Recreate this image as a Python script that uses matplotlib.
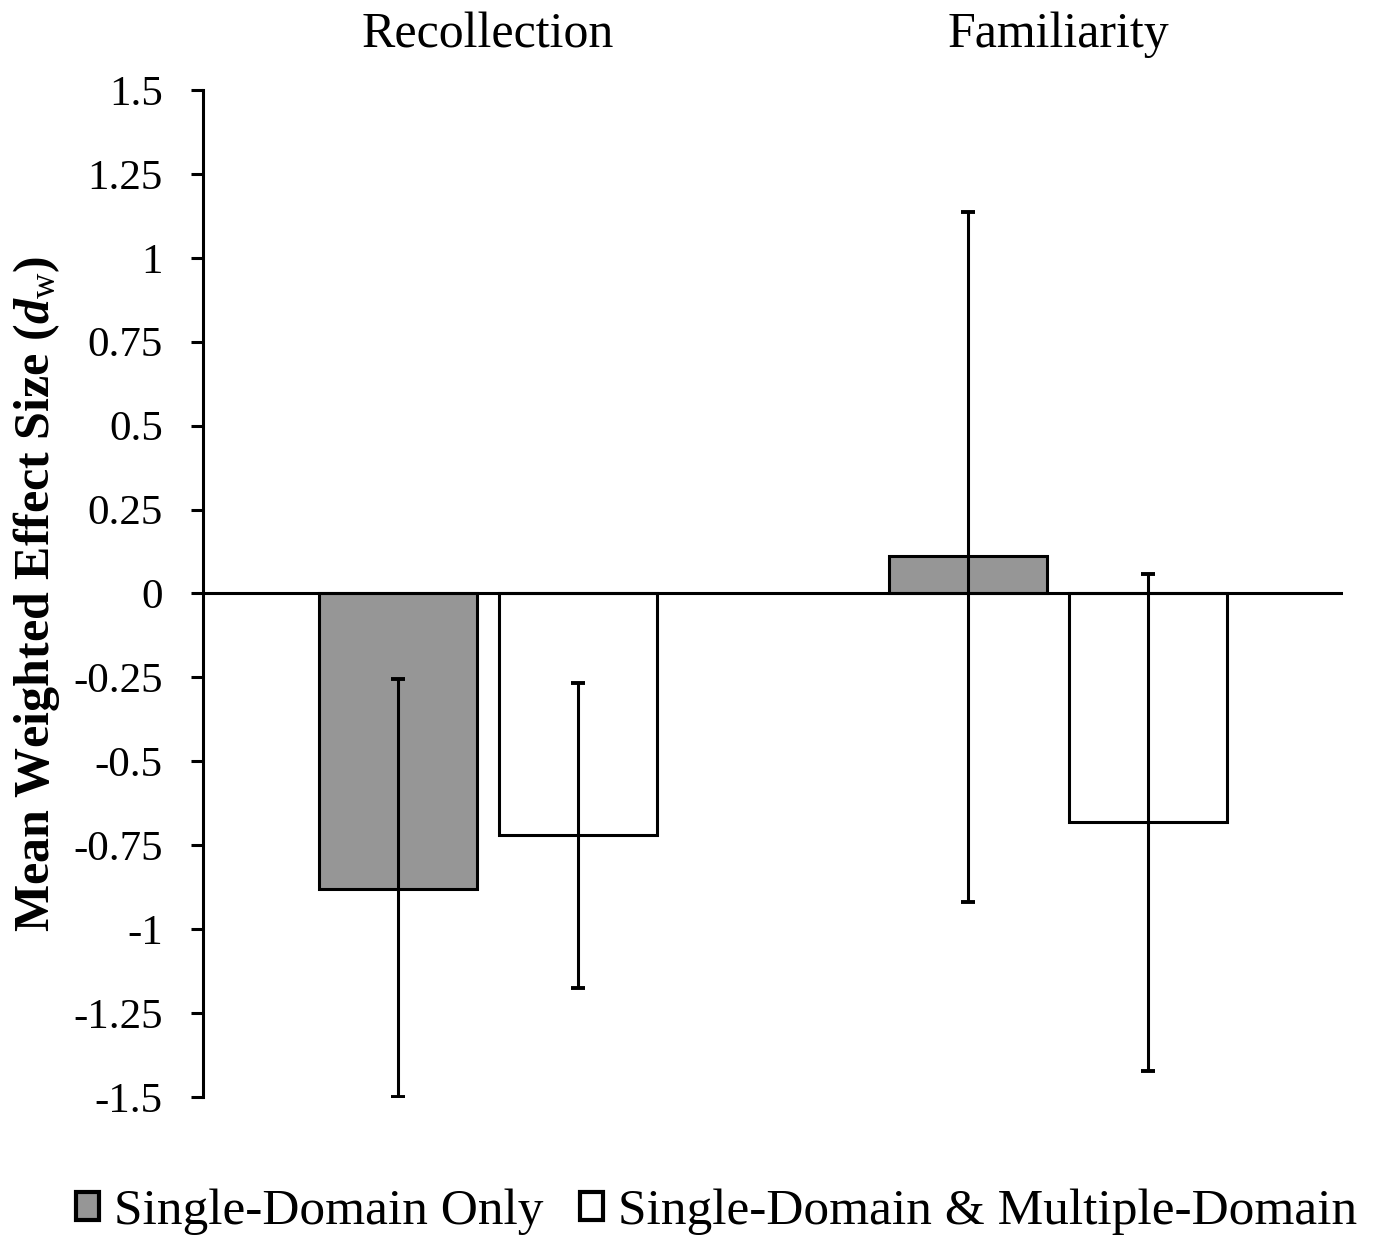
import numpy as np
import matplotlib
matplotlib.use("Agg")
import matplotlib.pyplot as plt

# data
categories = ['Recollection', 'Familiarity']
series_names = ['Single-Domain Only', 'Single-Domain & Multiple-Domain']
single_only = [-0.88, 0.113]
single_multi = [-0.718, -0.682]
single_only_lo = [-1.50, -0.92]
single_only_hi = [-0.256, 1.135]
single_multi_lo = [-1.174, -1.424]
single_multi_hi = [-0.268, 0.057]
y_ticks = [1.5, 1.25, 1, 0.75, 0.5, 0.25, 0, -0.25, -0.5, -0.75, -1, -1.25, -1.5]
y_tick_labels = ['1.5', '1.25', '1', '0.75', '0.5', '0.25', '0', '-0.25', '-0.5',
                 '-0.75', '-1', '-1.25', '-1.5']

plt.rcParams['font.family'] = ['Liberation Serif', 'DejaVu Serif']
plt.rcParams['mathtext.fontset'] = 'custom'
plt.rcParams['mathtext.rm'] = 'Liberation Serif'
plt.rcParams['mathtext.it'] = 'Liberation Serif:italic'
plt.rcParams['mathtext.bf'] = 'Liberation Serif:bold'
plt.rcParams['mathtext.bfit'] = 'Liberation Serif:bold:italic'

fig = plt.figure(figsize=(13.76, 12.39), dpi=100)
ax = fig.add_axes([0.1475, 0.1146, 0.8285, 0.8128])

x = np.arange(len(categories))
width = 0.277
offset = 0.158

def err(vals, lo, hi):
    vals = np.array(vals)
    return [vals - np.array(lo), np.array(hi) - vals]

ax.bar(x - offset, single_only, width, color='#969696', edgecolor='black',
       linewidth=2.2, label=series_names[0], zorder=2)
ax.bar(x + offset, single_multi, width, color='white', edgecolor='black',
       linewidth=2.2, label=series_names[1], zorder=2)
ax.errorbar(x - offset, single_only, yerr=err(single_only, single_only_lo, single_only_hi),
            fmt='none', ecolor='black', elinewidth=2.2, capsize=5, capthick=2.8, zorder=3)
ax.errorbar(x + offset, single_multi, yerr=err(single_multi, single_multi_lo, single_multi_hi),
            fmt='none', ecolor='black', elinewidth=2.2, capsize=5, capthick=2.8, zorder=3)

# zero line across the plot
ax.axhline(0, color='black', linewidth=2.2, zorder=4)

ax.set_xlim(-0.5, 1.5)
ax.set_ylim(-1.5, 1.5)
ax.set_yticks(y_ticks)
ax.set_yticklabels(y_tick_labels)
ax.tick_params(axis='y', direction='out', length=9, width=2.2, labelsize=31, pad=20)

# category names sit above the plot
ax.xaxis.tick_top()
ax.set_xticks(x)
ax.set_xticklabels(categories)
ax.tick_params(axis='x', length=0, labelsize=36, pad=23)

for s in ['top', 'right', 'bottom']:
    ax.spines[s].set_visible(False)
ax.spines['left'].set_linewidth(2.2)

ax.set_ylabel(r'Mean Weighted Effect Size ($\mathbfit{d}_{\mathrm{w}}$)',
              fontsize=36, fontweight='bold', labelpad=8)

leg = fig.legend(loc='center', bbox_to_anchor=(0.5206, 0.0218), ncol=2, frameon=False,
                 fontsize=37, handlelength=0.45, handleheight=0.45, handletextpad=0.3,
                 columnspacing=0.7, borderaxespad=0.0)
for h in leg.legend_handles:
    h.set_linewidth(3)

fig.savefig('out.png', dpi=100)
